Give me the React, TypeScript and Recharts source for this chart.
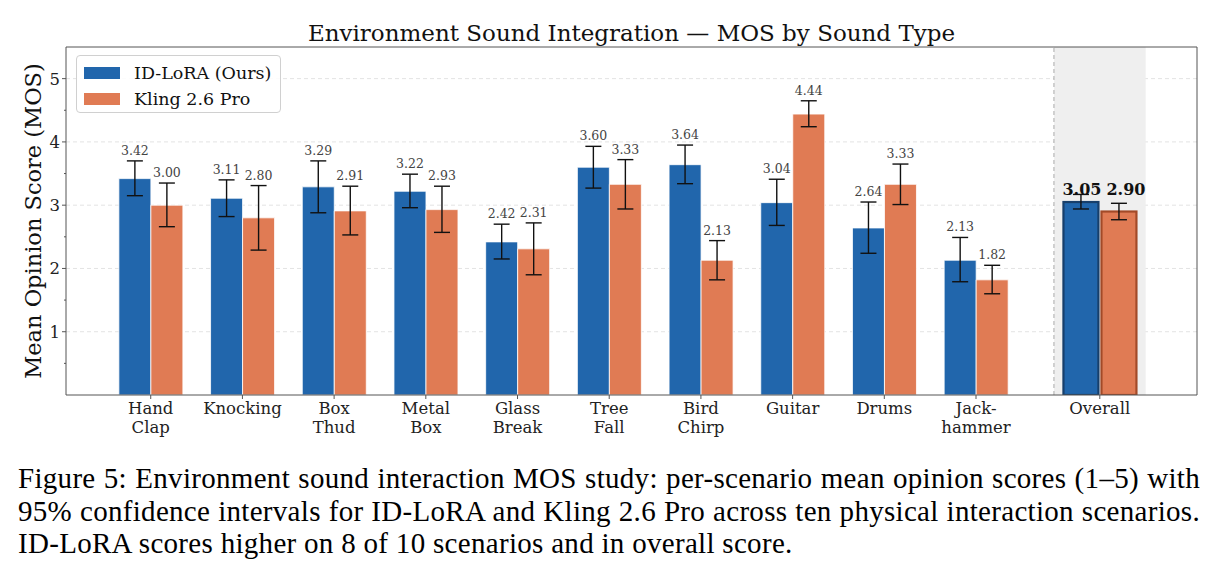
import React from 'react';
import {
  ComposedChart,
  Bar,
  XAxis,
  YAxis,
  CartesianGrid,
  ErrorBar,
  LabelList,
  ReferenceArea,
  ReferenceLine,
  Label,
} from 'recharts';

// Sound types (x positions: ten scenarios + the separated "Overall" group)
const categories = [
  'Hand\nClap', 'Knocking', 'Box\nThud', 'Metal\nBox', 'Glass\nBreak',
  'Tree\nFall', 'Bird\nChirp', 'Guitar', 'Drums', 'Jack-\nhammer', 'Overall',
];
const positions = [0, 1, 2, 3, 4, 5, 6, 7, 8, 9, 10.35];

// Mean opinion scores
const idLoraMos = [3.42, 3.11, 3.29, 3.22, 2.42, 3.6, 3.64, 3.04, 2.64, 2.13, 3.05];
const klingMos = [3.0, 2.8, 2.91, 2.93, 2.31, 3.33, 2.13, 4.44, 3.33, 1.82, 2.9];

// 95% confidence intervals [low, high]
const idLoraCi = [
  [3.15, 3.7], [2.82, 3.4], [2.88, 3.7], [2.96, 3.49], [2.15, 2.7],
  [3.27, 3.93], [3.34, 3.95], [2.68, 3.41], [2.24, 3.05], [1.79, 2.49], [2.94, 3.17],
];
const klingCi = [
  [2.66, 3.35], [2.29, 3.31], [2.53, 3.3], [2.57, 3.3], [1.9, 2.72],
  [2.94, 3.72], [1.82, 2.44], [4.24, 4.65], [3.01, 3.65], [1.6, 2.05], [2.77, 3.03],
];

const yMajorTicks = [1, 2, 3, 4, 5];
const yAllTicks = [0.5, 1, 1.5, 2, 2.5, 3, 3.5, 4, 4.5, 5];

const captionLines = [
  'Figure 5: Environment sound interaction MOS study: per-scenario mean opinion scores (1–5) with',
  '95% confidence intervals for ID-LoRA and Kling 2.6 Pro across ten physical interaction scenarios.',
  'ID-LoRA scores higher on 8 of 10 scenarios and in overall score.',
];

const BLUE = '#2166ac';
const ORANGE = '#e07b54';
const BLUE_EDGE = '#173f6b';
const ORANGE_EDGE = '#a34a28';
const AXIS = '#555';
const FONT = '"DejaVu Serif", serif';

const OVERALL = categories.length - 1;
const PLOT_LEFT = 66;
const X_DOMAIN = [-0.924, 11.41];

// scenario bars and the highlighted overall bars go into separate series
const data = categories.map((name, i) => {
  const isOverall = i === OVERALL;
  return {
    name,
    x: positions[i],
    idLora: isOverall ? null : idLoraMos[i],
    kling: isOverall ? null : klingMos[i],
    idOverall: isOverall ? idLoraMos[i] : null,
    klOverall: isOverall ? klingMos[i] : null,
    idErr: [idLoraMos[i] - idLoraCi[i][0], idLoraCi[i][1] - idLoraMos[i]],
    klErr: [klingMos[i] - klingCi[i][0], klingCi[i][1] - klingMos[i]],
    idHi: idLoraCi[i][1],
    klHi: klingCi[i][1],
  };
});

const overallTop = Math.max(idLoraCi[OVERALL][1], klingCi[OVERALL][1]);

// value label sitting above the upper whisker
const makeValueLabel = (hiKey: 'idHi' | 'klHi') => (props: any) => {
  const { x, y, width, height, value, index } = props;
  if (value == null || !data[index]) return null;
  const v = Number(value);
  const perUnit = height / v;
  const by = y - (data[index][hiKey] - v) * perUnit - 6;
  return (
    <text x={x + width / 2} y={by} textAnchor="middle" fontFamily={FONT} fontSize={12.5} fill="#444">
      {v.toFixed(2)}
    </text>
  );
};

// bold label for the overall group, both on one line near the higher whisker
const makeOverallLabel = (dx: number) => (props: any) => {
  const { x, y, width, height, value } = props;
  if (value == null) return null;
  const v = Number(value);
  const perUnit = height / v;
  const by = y - (overallTop - v) * perUnit + 1;
  return (
    <text x={x + width / 2 + dx} y={by} textAnchor="middle" fontFamily={FONT} fontSize={16} fontWeight="bold" fill="#111">
      {v.toFixed(2)}
    </text>
  );
};

// overall bars: drawn slightly inset so a small gap shows between them
const OverallShape = (edge: string, fill: string) => (p: any) => {
  if (!p.height) return null;
  return (
    <rect x={p.x + 1.5} y={p.y} width={p.width - 3} height={p.height} fill={fill} stroke={edge} strokeWidth={2.2} />
  );
};

const XTick = ({ x, y, payload }: any) => {
  const idx = positions.indexOf(payload.value);
  const lines = idx >= 0 ? categories[idx].split('\n') : [];
  return (
    <text x={x} y={y + 13} textAnchor="middle" fontFamily={FONT} fontSize={16.5} fill="#222">
      {lines.map((l, i) => (
        <tspan key={i} x={x} dy={i === 0 ? 0 : 19}>{l}</tspan>
      ))}
    </text>
  );
};

const YTick = ({ y, payload }: any) => {
  const v = payload.value;
  const major = yMajorTicks.includes(v);
  return (
    <g>
      <line x1={PLOT_LEFT - (major ? 4 : 2)} x2={PLOT_LEFT} y1={y} y2={y} stroke={AXIS} strokeWidth={1} />
      {major && (
        <text x={PLOT_LEFT - 6} y={y + 6} textAnchor="end" fontFamily={FONT} fontSize={16.5} fill="#222">
          {v}
        </text>
      )}
    </g>
  );
};

const legendItems = [
  { label: 'ID-LoRA (Ours)', color: BLUE },
  { label: 'Kling 2.6 Pro', color: ORANGE },
];

export default function App() {
  return (
    <div style={{ position: 'absolute', left: 0, top: 0, width: 1220, height: 576, background: '#fff' }}>
      <div
        style={{
          position: 'absolute', left: 66, width: 1131, top: 22, textAlign: 'center',
          fontFamily: FONT, fontSize: 23, lineHeight: 1, color: '#111',
        }}
      >
        Environment Sound Integration — MOS by Sound Type
      </div>
      <ComposedChart
        width={1220}
        height={450}
        data={data}
        barGap={0}
        margin={{ top: 47, right: 23, left: 6, bottom: 5 }}
      >
        <CartesianGrid
          vertical={false}
          horizontalValues={yMajorTicks}
          stroke="#e3e3e3"
          strokeDasharray="4 3"
        />
        <ReferenceArea x1={9.85} x2={10.85} y1={0} y2={5.5} fill="#efefef" fillOpacity={1} stroke="none" />
        <ReferenceLine x={9.85} stroke="#aaa" strokeDasharray="4 3" strokeWidth={1} />
        <XAxis
          type="number"
          dataKey="x"
          domain={X_DOMAIN}
          allowDataOverflow
          ticks={positions}
          interval={0}
          height={50}
          stroke={AXIS}
          tickSize={4}
          tickMargin={2}
          tick={<XTick />}
        />
        <XAxis
          xAxisId="ov"
          type="number"
          dataKey="x"
          domain={X_DOMAIN}
          allowDataOverflow
          ticks={positions}
          interval={0}
          hide
        />
        <YAxis
          type="number"
          domain={[0, 5.5]}
          allowDataOverflow
          ticks={yAllTicks}
          interval={0}
          width={60}
          stroke={AXIS}
          tickLine={false}
          tick={<YTick />}
        >
          <Label
            content={({ viewBox }: any) => (
              <text
                x={33}
                y={viewBox.y + viewBox.height / 2}
                transform={`rotate(-90, 33, ${viewBox.y + viewBox.height / 2})`}
                textAnchor="middle"
                dominantBaseline="central"
                fontFamily={FONT}
                fontSize={22.5}
                fill="#111"
              >
                Mean Opinion Score (MOS)
              </text>
            )}
          />
        </YAxis>
        <Bar dataKey="idLora" barSize={32} fill={BLUE} stroke="#fff" strokeWidth={0.8} isAnimationActive={false}>
          <ErrorBar dataKey="idErr" direction="y" width={8} stroke="#111" strokeWidth={1.4} />
          <LabelList dataKey="idLora" content={makeValueLabel('idHi')} />
        </Bar>
        <Bar dataKey="kling" barSize={32} fill={ORANGE} stroke="#fff" strokeWidth={0.8} isAnimationActive={false}>
          <ErrorBar dataKey="klErr" direction="y" width={8} stroke="#111" strokeWidth={1.4} />
          <LabelList dataKey="kling" content={makeValueLabel('klHi')} />
        </Bar>
        <Bar
          xAxisId="ov"
          dataKey="idOverall"
          barSize={38}
          fill={BLUE}
          shape={OverallShape(BLUE_EDGE, BLUE)}
          isAnimationActive={false}
        >
          <ErrorBar dataKey="idErr" direction="y" width={8} stroke="#111" strokeWidth={1.4} />
          <LabelList dataKey="idOverall" content={makeOverallLabel(1)} />
        </Bar>
        <Bar
          xAxisId="ov"
          dataKey="klOverall"
          barSize={38}
          fill={ORANGE}
          shape={OverallShape(ORANGE_EDGE, ORANGE)}
          isAnimationActive={false}
        >
          <ErrorBar dataKey="klErr" direction="y" width={8} stroke="#111" strokeWidth={1.4} />
          <LabelList dataKey="klOverall" content={makeOverallLabel(7)} />
        </Bar>
        <ReferenceLine y={5.5} stroke={AXIS} strokeWidth={1} />
        <ReferenceLine x={11.41} stroke={AXIS} strokeWidth={1} />
      </ComposedChart>

      {/* legend box */}
      <div
        style={{
          position: 'absolute', left: 76, top: 55, width: 203, height: 56,
          border: '1px solid #d0d0d0', borderRadius: 4, background: 'rgba(255,255,255,0.85)',
          fontFamily: FONT, fontSize: 17.5, color: '#111',
        }}
      >
        {legendItems.map((it, i) => (
          <div key={it.label} style={{ position: 'absolute', left: 0, top: 4 + i * 26, height: 26, display: 'flex', alignItems: 'center' }}>
            <span style={{ display: 'inline-block', width: 36, height: 12, background: it.color, marginLeft: 7, marginRight: 14 }} />
            <span style={{ whiteSpace: 'nowrap' }}>{it.label}</span>
          </div>
        ))}
      </div>

      <div
        style={{
          position: 'absolute', left: 18, top: 462, width: 1182,
          fontFamily: '"Liberation Serif", "Times New Roman", serif', fontSize: 29, lineHeight: '32.5px',
          letterSpacing: 0.3, color: '#000',
        }}
      >
        {captionLines.map((line, i) => (
          <div
            key={i}
            style={{
              whiteSpace: i < captionLines.length - 1 ? 'normal' : 'nowrap',
              textAlign: 'justify',
              textAlignLast: i < captionLines.length - 1 ? 'justify' : 'left',
            }}
          >
            {line}
          </div>
        ))}
      </div>
    </div>
  );
}
